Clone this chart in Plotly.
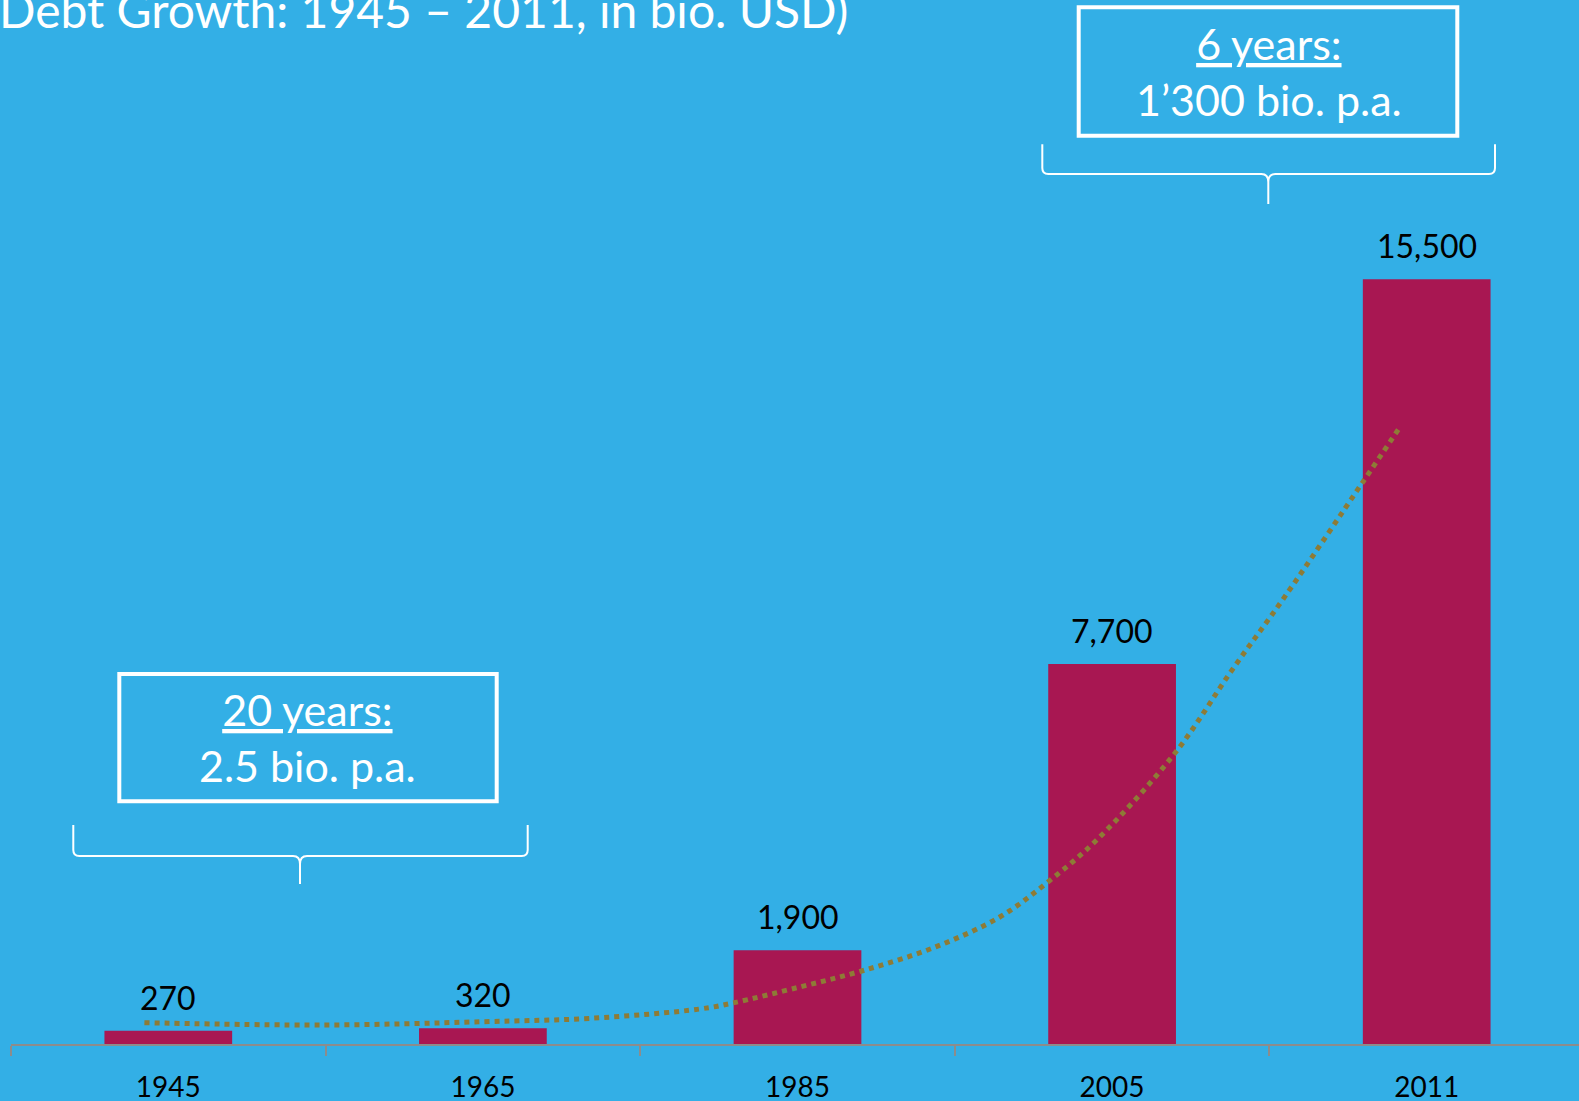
import plotly.graph_objects as go

# ---- data ----
years = ["1945", "1965", "1985", "2005", "2011"]
debt = [270, 320, 1900, 7700, 15500]
# dotted trend line (x in category units, y in bio. USD)
trend_x = [-0.076, 0.491, 1.0, 1.343, 1.689, 1.794, 2.007, 2.204, 2.43, 2.643,
           2.796, 2.951, 3.2, 3.385, 3.549, 3.797, 3.911]
trend_y = [432, 385, 452, 521, 709, 831, 1155, 1480, 1946, 2574,
           3284, 4135, 5898, 7615, 9067, 11391, 12466]
title_text = "Debt Growth: 1945 \u2013 2011, in bio. USD)"
box_texts = ["<u>20 years:</u><br>2.5 bio. p.a.", "<u>6 years:</u><br>1\u2019300 bio. p.a."]

# ---- style / layout constants ----
BG = "#33AFE6"
BAR = "#A81752"
TREND = "#8E7B36"
FONT = "Lato"
W, H = 1579, 1101
L, B, T, R = 11, 57, 0, 0
PW, PH = W - L - R, H - T - B


def px(x):
    return (x - L) / PW


def py(y):
    return (PH + T - y) / PH


fig = go.Figure()
xpos = list(range(len(years)))
fig.add_trace(go.Bar(x=xpos, y=debt, marker=dict(color=BAR, line=dict(width=0)),
                     width=0.406, hoverinfo="skip", showlegend=False))
fig.add_trace(go.Scatter(x=trend_x, y=trend_y, mode="lines",
                         line=dict(color=TREND, width=5, dash="5px,5px", shape="spline"),
                         hoverinfo="skip", showlegend=False))

annotations = []
for xi, v in zip(xpos, debt):
    annotations.append(dict(x=xi, y=v, xref="x", yref="y", text=f"{v:,}",
                            showarrow=False, yanchor="bottom", yshift=12,
                            font=dict(family=FONT, size=32, color="black")))

annotations.append(dict(x=px(-3), y=py(10), xref="paper", yref="paper", text=title_text,
                        showarrow=False, xanchor="left", yanchor="middle",
                        font=dict(family=FONT, size=48, color="white")))

box_specs = [
    (119.3, 496.7, 674, 801.3, 307.5, 737),
    (1078.7, 1457.3, 7.3, 135.7, 1268.5, 71.7),
]
shapes = []
for (x0, x1, y0, y1, cx, cy), txt in zip(box_specs, box_texts):
    shapes.append(dict(type="rect", xref="paper", yref="paper",
                       x0=px(x0), x1=px(x1), y0=py(y1), y1=py(y0),
                       line=dict(color="white", width=4), fillcolor="rgba(0,0,0,0)"))
    annotations.append(dict(x=px(cx), y=py(cy), xref="paper", yref="paper", text=txt,
                            showarrow=False, xanchor="center", yanchor="middle",
                            font=dict(family=FONT, size=43, color="white")))


def brace(x0, x1, ytop, yh, ytip, xc, r=6, rc=7):
    P = lambda x, y: f"{px(x):.5f},{py(y):.5f}"
    return ("M " + P(x0, ytop) + " L " + P(x0, yh - r) + " Q " + P(x0, yh) + " " + P(x0 + r, yh)
            + " L " + P(xc - rc, yh) + " Q " + P(xc, yh) + " " + P(xc, yh + rc + 1)
            + " L " + P(xc, ytip)
            + " M " + P(xc, yh + rc + 1) + " Q " + P(xc, yh) + " " + P(xc + rc, yh)
            + " L " + P(x1 - r, yh) + " Q " + P(x1, yh) + " " + P(x1, yh - r)
            + " L " + P(x1, ytop))


for args in [(73.3, 527.7, 825, 856, 884, 300), (1042.3, 1495, 144.3, 174, 204, 1268.3)]:
    shapes.append(dict(type="path", xref="paper", yref="paper", path=brace(*args),
                       line=dict(color="white", width=2)))

fig.update_layout(
    width=W, height=H,
    margin=dict(l=L, r=R, t=T, b=B, pad=0),
    paper_bgcolor=BG, plot_bgcolor=BG,
    bargap=0.594,
    font=dict(family=FONT),
    annotations=annotations,
    shapes=shapes,
    xaxis=dict(range=[-0.5, -0.5 + PW / 314.6], tickvals=xpos, ticktext=years,
               ticks="", showgrid=False, zeroline=False, automargin=False,
               showline=True, linecolor="#8C8C8C", linewidth=2,
               tickfont=dict(family=FONT, size=28, color="black"),
               ticklabelstandoff=17,
               minor=dict(tickvals=[i - 0.5 for i in range(len(years) + 1)], ticks="outside",
                          ticklen=10, tickcolor="#8C8C8C", tickwidth=2, showgrid=False)),
    yaxis=dict(range=[0, PH / 0.049335], visible=False, showgrid=False, zeroline=False,
               automargin=False),
)

fig.write_html("out.html", config={"displayModeBar": False},
               post_script="document.body.style.margin='0';document.body.style.padding='0';"
                           "document.body.style.overflow='hidden';")
